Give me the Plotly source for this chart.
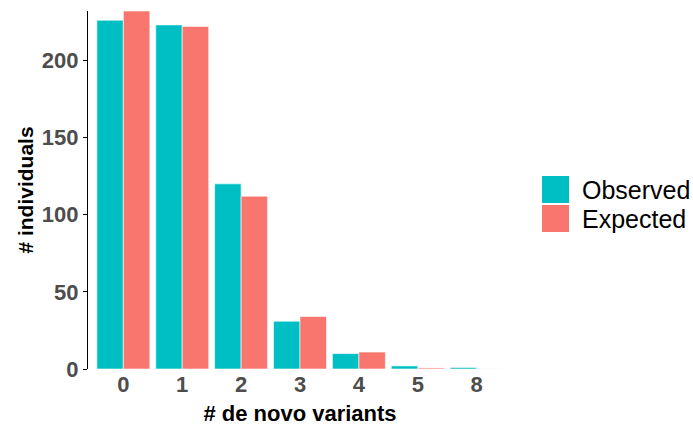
import plotly.graph_objects as go

categories = ["0", "1", "2", "3", "4", "5", "8"]
observed = [226, 223, 120, 31, 10, 2, 1]
expected = [232, 222, 112, 34, 11, 0.7, 0.05]
y_ticks = [0, 50, 100, 150, 200]

TEAL = "#00BFC4"
SALMON = "#F8766D"
FONT = "Liberation Sans, Arial, sans-serif"

fig = go.Figure()
fig.add_trace(go.Bar(x=categories, y=observed, name="Observed", marker=dict(color=TEAL, line=dict(color="white", width=0.6)), showlegend=False))
fig.add_trace(go.Bar(x=categories, y=expected, name="Expected", marker=dict(color=SALMON, line=dict(color="white", width=0.6)), showlegend=False))

fig.update_layout(
    width=693, height=428,
    margin=dict(l=88, r=181, t=11, b=59, autoexpand=False),
    plot_bgcolor="white", paper_bgcolor="white",
    barmode="group", bargap=0.1, bargroupgap=0,
    font=dict(family=FONT),
)
fig.update_xaxes(
    type="category", range=[-0.6, len(categories) - 0.4], automargin=False,
    showline=False, showgrid=False, ticks="",
    tickvals=categories, ticktext=[f"<b>{c}</b>" for c in categories],
    tickfont=dict(size=22, color="#4D4D4D", family=FONT),
    title=dict(text="<b># de novo variants</b>", font=dict(size=22, color="black"), standoff=9),
)
fig.update_yaxes(
    range=[0, 232], showgrid=False, zeroline=False, automargin=False,
    showline=True, linecolor="black", linewidth=1.2,
    ticks="outside", ticklen=4, tickcolor="black",
    tickvals=y_ticks, ticktext=[f"<b>{v}</b>" for v in y_ticks],
    tickfont=dict(size=22, color="#4D4D4D", family=FONT),
    title=dict(text="<b># individuals</b>", font=dict(size=21, color="black"), standoff=2),
)

# manual legend (ggplot style keys)
legend_items = [("Observed", TEAL), ("Expected", SALMON)]
for i, (label, col) in enumerate(legend_items):
    y0 = 176 + i * 29
    fig.add_shape(type="rect", xref="paper", yref="paper",
                  x0=(542 - 88) / 424, x1=(569 - 88) / 424,
                  y0=(369 - (y0 + 27)) / 358, y1=(369 - y0) / 358,
                  fillcolor=col, line=dict(width=0))
    fig.add_annotation(xref="paper", yref="paper", x=(580 - 88) / 424, y=(369 - (y0 + 14)) / 358,
                       text=label, showarrow=False, xanchor="left", yanchor="middle",
                       font=dict(size=25, color="black", family=FONT))

fig.write_html("out.html", config={"displayModeBar": False},
               post_script="document.body.style.margin='0';document.body.style.overflow='hidden';")
